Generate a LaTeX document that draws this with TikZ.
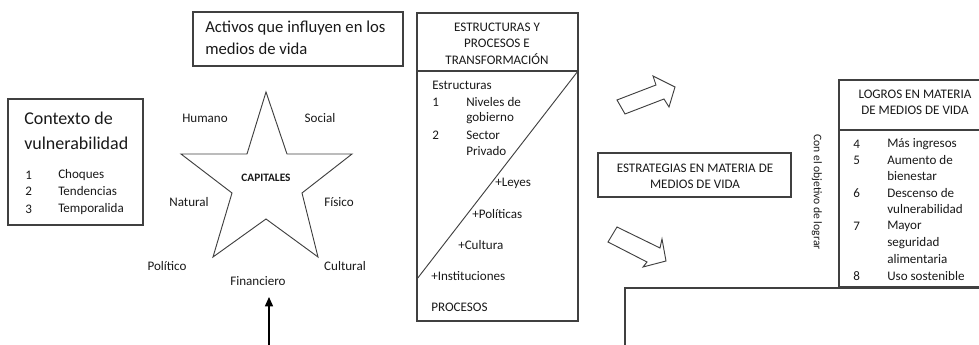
\documentclass[tikz,border=0pt]{standalone}
\usepackage{fontspec}
\setmainfont{Carlito}
\usetikzlibrary{arrows.meta}
\begin{document}
\begin{tikzpicture}[x=0.75pt,y=-0.75pt,
  box/.style={draw=black!75, line width=0.9pt},
  thin/.style={draw=black!75, line width=0.7pt},
  sm/.style={font=\fontsize{9.8}{11}\selectfont, inner sep=0pt, text=black!90},
  big/.style={font=\fontsize{13.5}{16}\selectfont, inner sep=0pt, text=black!90},
  mid/.style={font=\fontsize{12.5}{15}\selectfont, inner sep=0pt, text=black!90},
  lt/.style={sm, anchor=west},
  ct/.style={sm, anchor=center}]
\useasboundingbox (0,0) rectangle (979,345);

% Contexto de vulnerabilidad
\draw[box] (8,99) rectangle (143,225);
\node[big, anchor=west] (ctx1) at (24,118) {Contexto de};
\node[big, anchor=west] (ctx2) at (24,143) {vulnerabilidad};
\node[lt] (c1n) at (25,175) {1};
\node[lt] (c1) at (58,175) {Choques};
\node[lt] (c2n) at (25,191) {2};
\node[lt] (c2) at (58,191) {Tendencias};
\node[lt] (c3n) at (25,209) {3};
\node[lt] (c3) at (58,209) {Temporalida};

% Activos
\draw[box] (193,12) rectangle (403,66);
\node[mid, anchor=west] (act1) at (205,28) {Activos que influyen en los};
\node[mid, anchor=west] (act2) at (205,49) {medios de vida};

% Star
\draw[thin] (266,92) -- (287,154) -- (352,154) -- (302,193) -- (318,257)
  -- (266,219) -- (213,257) -- (232,193) -- (181,154) -- (247,154) -- cycle;
\node[sm, font=\fontsize{8.5}{10}\selectfont\bfseries] (cap) at (266,178) {CAPITALES};
\node[ct] (hum) at (205,118) {Humano};
\node[ct] (soc) at (320,118) {Social};
\node[ct] (nat) at (189,202) {Natural};
\node[ct] (fis) at (339,202) {Físico};
\node[ct] (pol) at (167,266) {Político};
\node[ct] (cul) at (345,266) {Cultural};
\node[ct] (fin) at (258,281) {Financiero};
\coordinate (atail) at (269,346);
\coordinate (ahead) at (269,297);
\draw[line width=1.1pt, -{Triangle[length=7pt,width=6pt]}] (atail) -- (ahead);

% Estructuras y procesos
\draw[box] (417,13) rectangle (578,321);
\draw[box] (417,71) -- (578,71);
\draw[thin] (578,71) -- (417,279);
\node[ct] (e1) at (497,27) {ESTRUCTURAS Y};
\node[ct] (e2) at (497,43) {PROCESOS E};
\node[ct] (e3) at (497,59) {TRANSFORMACIÓN};
\node[lt] (est) at (432,85) {Estructuras};
\node[lt] (s1n) at (432,102) {1};
\node[lt] (s1a) at (466,102) {Niveles de};
\node[lt] (s1b) at (466,118) {gobierno};
\node[lt] (s2n) at (432,135) {2};
\node[lt] (s2a) at (466,135) {Sector};
\node[lt] (s2b) at (466,151) {Privado};
\node[lt] (ley) at (495,183) {+Leyes};
\node[lt] (polit) at (472,214) {+Políticas};
\node[lt] (cult) at (458,245) {+Cultura};
\node[lt] (inst) at (431,276) {+Instituciones};
\node[lt] (proc) at (431,307) {PROCESOS};

% hollow arrows
\draw[thin, line join=miter] (617,100) -- (656,85) -- (653,76) -- (675,87) -- (669,107)
  -- (664,99) -- (625,114) -- cycle;
\draw[thin, line join=miter] (617,227) -- (660,248) -- (662,239) -- (666,261) -- (643,267)
  -- (647,262) -- (608,242) -- cycle;

% Estrategias
\draw[box] (598,153) rectangle (791,197);
\node[ct] (str1) at (695,168) {ESTRATEGIAS EN MATERIA DE};
\node[ct] (str2) at (695,184) {MEDIOS DE VIDA};

% Con el objetivo
\node[sm, font=\fontsize{8.7}{10}\selectfont, rotate=-90] (obj) at (817,192) {Con el objetivo de lograr};

% Logros
\draw[box] (979,80) -- (839,80) -- (839,287) -- (979,287);
\draw[box] (839,130) -- (979,130);
\node[ct] (l1) at (915,94) {LOGROS EN MATERIA};
\node[ct] (l2) at (915,110) {DE MEDIOS DE VIDA};
\node[lt] (g4n) at (853,144) {4};
\node[lt] (g4) at (887,144) {Más ingresos};
\node[lt] (g5n) at (853,160) {5};
\node[lt] (g5a) at (887,160) {Aumento de};
\node[lt] (g5b) at (887,176) {bienestar};
\node[lt] (g6n) at (853,193) {6};
\node[lt] (g6a) at (887,193) {Descenso de};
\node[lt] (g6b) at (887,209) {vulnerabilidad};
\node[lt] (g7n) at (853,226) {7};
\node[lt] (g7a) at (887,226) {Mayor};
\node[lt] (g7b) at (887,243) {seguridad};
\node[lt] (g7c) at (887,259) {alimentaria};
\node[lt] (g8n) at (853,276) {8};
\node[lt] (g8) at (887,276) {Uso sostenible};

% bottom box
\draw[box] (625,346) -- (625,288) -- (979,288);
\end{tikzpicture}
\end{document}
